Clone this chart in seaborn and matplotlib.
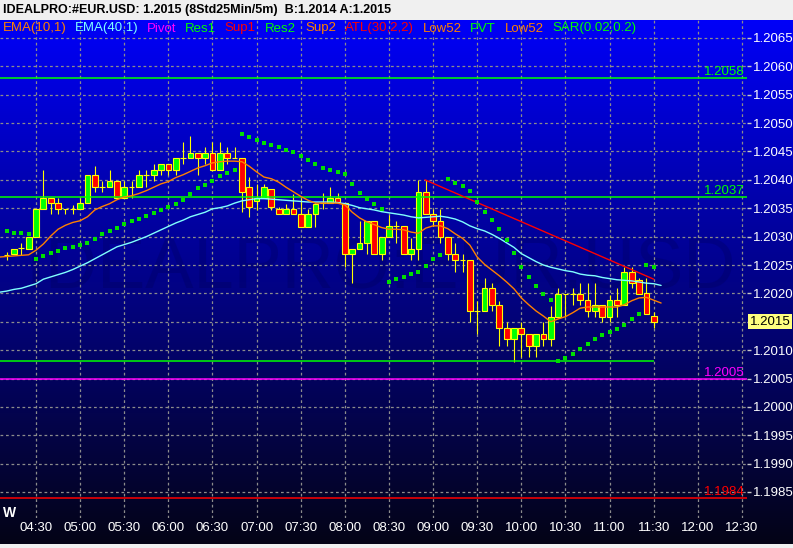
import matplotlib
matplotlib.use("Agg")
import numpy as np
import pandas as pd
import matplotlib.pyplot as plt
from matplotlib import font_manager
from matplotlib.transforms import blended_transform_factory
import seaborn as sns

# ------------------------------------------------------------------ data
header = "IDEALPRO:#EUR.USD: 1.2015 (8Std25Min/5m)  B:1.2014 A:1.2015"

# 5-minute bars, index 0 = 04:30
bar_index = list(range(-4, 85))
opens = [1.20268, 1.20269, 1.20280, 1.20278,
         1.20299, 1.20349, 1.20368, 1.20359, 1.20349, 1.20349, 1.20349, 1.20359, 1.20409, 1.20387,
         1.20387, 1.20398, 1.20368, 1.20387, 1.20387, 1.20409, 1.20409, 1.20417, 1.20428, 1.20417,
         1.20439, 1.20439, 1.20447, 1.20439, 1.20447, 1.20417, 1.20447, 1.20439, 1.20439, 1.20387,
         1.20363, 1.20368, 1.20384, 1.20349, 1.20340, 1.20349, 1.20340, 1.20317, 1.20340, 1.20359,
         1.20359, 1.20368, 1.20359, 1.20269, 1.20278, 1.20288, 1.20328, 1.20269, 1.20299, 1.20319,
         1.20319, 1.20269, 1.20278, 1.20379, 1.20340, 1.20328, 1.20299, 1.20269, 1.20259, 1.20259,
         1.20169, 1.20169, 1.20209, 1.20180, 1.20139, 1.20120, 1.20139, 1.20128, 1.20107, 1.20128,
         1.20120, 1.20158, 1.20199, 1.20199, 1.20199, 1.20188, 1.20169, 1.20180, 1.20158, 1.20188,
         1.20180, 1.20238, 1.20224, 1.20201, 1.20160]
highs = [1.20273, 1.20278, 1.20288, 1.20299,
         1.20349, 1.20417, 1.20368, 1.20368, 1.20349, 1.20356, 1.20368, 1.20409, 1.20424, 1.20398,
         1.20417, 1.20398, 1.20398, 1.20398, 1.20417, 1.20417, 1.20428, 1.20428, 1.20428, 1.20439,
         1.20467, 1.20477, 1.20447, 1.20458, 1.20467, 1.20467, 1.20458, 1.20458, 1.20439, 1.20405,
         1.20393, 1.20393, 1.20384, 1.20352, 1.20357, 1.20375, 1.20368, 1.20349, 1.20359, 1.20377,
         1.20387, 1.20377, 1.20359, 1.20278, 1.20328, 1.20328, 1.20328, 1.20299, 1.20338, 1.20328,
         1.20319, 1.20298, 1.20400, 1.20400, 1.20349, 1.20349, 1.20299, 1.20288, 1.20269, 1.20259,
         1.20186, 1.20227, 1.20218, 1.20186, 1.20149, 1.20139, 1.20149, 1.20128, 1.20128, 1.20149,
         1.20178, 1.20209, 1.20199, 1.20209, 1.20218, 1.20218, 1.20218, 1.20180, 1.20197, 1.20209,
         1.20246, 1.20246, 1.20227, 1.20227, 1.20167]
lows = [1.20259, 1.20269, 1.20268, 1.20278,
        1.20299, 1.20349, 1.20340, 1.20340, 1.20340, 1.20340, 1.20349, 1.20359, 1.20379, 1.20379,
        1.20387, 1.20368, 1.20368, 1.20368, 1.20387, 1.20387, 1.20398, 1.20409, 1.20409, 1.20409,
        1.20428, 1.20439, 1.20409, 1.20428, 1.20417, 1.20417, 1.20428, 1.20439, 1.20343, 1.20335,
        1.20347, 1.20368, 1.20347, 1.20340, 1.20340, 1.20340, 1.20317, 1.20317, 1.20317, 1.20349,
        1.20359, 1.20361, 1.20246, 1.20218, 1.20278, 1.20269, 1.20269, 1.20259, 1.20299, 1.20288,
        1.20269, 1.20259, 1.20259, 1.20340, 1.20319, 1.20288, 1.20259, 1.20238, 1.20238, 1.20149,
        1.20128, 1.20169, 1.20169, 1.20107, 1.20107, 1.20079, 1.20088, 1.20088, 1.20088, 1.20107,
        1.20107, 1.20158, 1.20158, 1.20180, 1.20180, 1.20158, 1.20158, 1.20149, 1.20149, 1.20158,
        1.20180, 1.20209, 1.20199, 1.20164, 1.20139]
closes = [1.20268, 1.20278, 1.20280, 1.20299,
          1.20349, 1.20368, 1.20359, 1.20349, 1.20349, 1.20349, 1.20359, 1.20409, 1.20387, 1.20387,
          1.20398, 1.20368, 1.20387, 1.20387, 1.20409, 1.20409, 1.20417, 1.20428, 1.20417, 1.20439,
          1.20439, 1.20447, 1.20439, 1.20447, 1.20417, 1.20447, 1.20439, 1.20439, 1.20379, 1.20352,
          1.20368, 1.20387, 1.20352, 1.20340, 1.20349, 1.20340, 1.20317, 1.20340, 1.20357, 1.20359,
          1.20368, 1.20361, 1.20269, 1.20278, 1.20288, 1.20328, 1.20269, 1.20299, 1.20319, 1.20319,
          1.20269, 1.20278, 1.20379, 1.20340, 1.20328, 1.20299, 1.20269, 1.20259, 1.20259, 1.20169,
          1.20169, 1.20209, 1.20180, 1.20139, 1.20120, 1.20139, 1.20128, 1.20107, 1.20128, 1.20120,
          1.20158, 1.20199, 1.20199, 1.20199, 1.20188, 1.20169, 1.20180, 1.20158, 1.20188, 1.20180,
          1.20238, 1.20218, 1.20199, 1.20164, 1.20150]
sar = [1.20310, 1.20306, 1.20306, 1.20305,
       1.20261, 1.20266, 1.20271, 1.20275, 1.20280, 1.20282, 1.20285, 1.20289, 1.20296, 1.20305,
       1.20310, 1.20316, 1.20322, 1.20328, 1.20331, 1.20336, 1.20342, 1.20347, 1.20352, 1.20358,
       1.20365, 1.20375, 1.20386, 1.20391, 1.20398, 1.20407, 1.20412, 1.20417,
       1.20481, 1.20476, 1.20470, 1.20465, 1.20461, 1.20458, 1.20453, 1.20449, 1.20442, 1.20435,
       1.20428, 1.20421, 1.20417, 1.20414, 1.20410, 1.20393, 1.20377, 1.20366, 1.20358, 1.20349,
       1.20220, 1.20225, 1.20229, 1.20234, 1.20238, 1.20248, 1.20261, 1.20268,
       1.20402, 1.20395, 1.20389, 1.20380, 1.20361, 1.20343, 1.20329, 1.20313, 1.20294, 1.20271,
       1.20246, 1.20229, 1.20213, 1.20199, 1.20188,
       1.20081, 1.20086, 1.20093, 1.20102, 1.20111, 1.20120, 1.20127, 1.20132, 1.20137, 1.20144,
       1.20155, 1.20164,
       1.20250, 1.20246]

ema_index = list(range(-5, 86))
ema10 = [1.20264, 1.20265, 1.20266, 1.20267, 1.20268,
         1.20276, 1.20287, 1.20301, 1.20313, 1.20320, 1.20325, 1.20328, 1.20335, 1.20347, 1.20353,
         1.20358, 1.20365, 1.20370, 1.20372, 1.20376, 1.20381, 1.20387, 1.20393, 1.20397, 1.20404,
         1.20409, 1.20415, 1.20421, 1.20425, 1.20430, 1.20432, 1.20433, 1.20433, 1.20432, 1.20424,
         1.20414, 1.20405, 1.20402, 1.20396, 1.20387, 1.20379, 1.20371, 1.20364, 1.20359, 1.20359,
         1.20359, 1.20359, 1.20356, 1.20343, 1.20333, 1.20326, 1.20321, 1.20316, 1.20313, 1.20313,
         1.20312, 1.20308, 1.20306, 1.20315, 1.20319, 1.20319, 1.20314, 1.20305, 1.20297, 1.20285,
         1.20264, 1.20251, 1.20241, 1.20231, 1.20220, 1.20208, 1.20192, 1.20180, 1.20169, 1.20160,
         1.20150, 1.20155, 1.20159, 1.20166, 1.20174, 1.20176, 1.20176, 1.20176, 1.20176, 1.20176,
         1.20180, 1.20187, 1.20192, 1.20193, 1.20188, 1.20183]
ema40 = [1.20202, 1.20204, 1.20207, 1.20209, 1.20213,
         1.20217, 1.20225, 1.20229, 1.20233, 1.20237, 1.20242, 1.20248, 1.20254, 1.20261, 1.20268,
         1.20275, 1.20282, 1.20286, 1.20290, 1.20295, 1.20300, 1.20306, 1.20312, 1.20318, 1.20324,
         1.20329, 1.20335, 1.20339, 1.20343, 1.20349, 1.20351, 1.20354, 1.20359, 1.20363, 1.20365,
         1.20367, 1.20367, 1.20366, 1.20365, 1.20364, 1.20363, 1.20362, 1.20361, 1.20361, 1.20361,
         1.20361, 1.20360, 1.20358, 1.20355, 1.20351, 1.20349, 1.20347, 1.20344, 1.20342, 1.20340,
         1.20338, 1.20335, 1.20333, 1.20334, 1.20335, 1.20336, 1.20334, 1.20331, 1.20326, 1.20319,
         1.20314, 1.20310, 1.20304, 1.20297, 1.20289, 1.20281, 1.20270, 1.20263, 1.20256, 1.20250,
         1.20246, 1.20243, 1.20240, 1.20238, 1.20234, 1.20232, 1.20231, 1.20228, 1.20226, 1.20224,
         1.20223, 1.20222, 1.20220, 1.20218, 1.20217, 1.20214]

time_labels = ["04:30", "05:00", "05:30", "06:00", "06:30", "07:00", "07:30", "08:00", "08:30",
               "09:00", "09:30", "10:00", "10:30", "11:00", "11:30", "12:00", "12:30"]
price_ticks = [1.1985, 1.1990, 1.1995, 1.2000, 1.2005, 1.2010, 1.2015, 1.2020, 1.2025,
               1.2030, 1.2035, 1.2040, 1.2045, 1.2050, 1.2055, 1.2060, 1.2065]

level_prices = [1.2058, 1.2037, 1.2005, 1.1984]
level_texts = ["1.2058", "1.2037", "1.2005", "1.1984"]
level_colors = ["#00FF00", "#00FF00", "#FF00FF", "#FF0000"]
low52_price = 1.2008
low52_end_bar = 84
atl_bars = [52.9, 84]
atl_prices = [1.20400, 1.20225]
last_price = 1.2015

legend_texts = ["EMA(10,1)", "EMA(40,1)", "Pivot", "Res1", "Sup1", "Res2", "Sup2",
                "ATL(30,2,2)", "Low52", "PVT", "Low52", "SAR(0.02,0.2)"]
legend_colors = ["#FF8000", "#80FFFF", "#FF00FF", "#00FF00", "#FF0000", "#00FF00", "#FF8000",
                 "#FF0000", "#FF8000", "#00FF00", "#FF8000", "#00FF00"]
legend_x_px = [3, 75, 147, 185, 224, 265, 305, 345, 423, 470, 505, 552]

# ------------------------------------------------------------------ style
sns.set_theme(style="dark")
names = {f.name for f in font_manager.fontManager.ttflist}
narrow = "Liberation Sans Narrow" in names
plt.rcParams["font.family"] = ["Liberation Sans Narrow" if narrow else "Liberation Sans", "DejaVu Sans"]
FS = 11 if narrow else 9.5

W, H = 793, 548
fig = plt.figure(figsize=(W / 100, H / 100), dpi=100, facecolor="#F0F0F0")


def fx(px):
    return px / W


def fy(py):
    return 1 - py / H


# background gradient (blue -> black)
bg = fig.add_axes([0, fy(544), 1, fy(20) - fy(544)], zorder=0)
t = np.linspace(0, 1, 400)[:, None, None]
top_c = np.array([0, 0, 248]) / 255
bot_c = np.array([4, 4, 22]) / 255
img = np.repeat(top_c * (1 - t) + bot_c * t, 2, axis=1)
bg.imshow(img, aspect="auto", extent=[0, 1, 0, 1], interpolation="bilinear")
bg.set_axis_off()

# main price axes (pixel mapping of the reference)
BAR_PX, X0_PX = 7.354, 36.0
PY0, P0, PX_PER_UNIT = 38.0, 1.2065, 56750.0
AX_R, AX_T, AX_B = 747, 20, 518
ax = fig.add_axes([0, fy(AX_B), fx(AX_R), fy(AX_T) - fy(AX_B)], zorder=1)
ax.patch.set_alpha(0)
ax.set_xlim(-X0_PX / BAR_PX, (AX_R - X0_PX) / BAR_PX)
ax.set_ylim(P0 - (AX_B - PY0) / PX_PER_UNIT, P0 + (PY0 - AX_T) / PX_PER_UNIT)
for s in ax.spines.values():
    s.set_visible(False)

ax.set_xticks([6 * k for k in range(len(time_labels))])
ax.set_xticklabels(time_labels)
ax.set_yticks(price_ticks)
# the last-price box replaces the regular label at that level
ax.set_yticklabels(["" if abs(p - last_price) < 1e-9 else f"{p:.4f}" for p in price_ticks])
ax.yaxis.tick_right()
ax.grid(True, color="#8C8C8C", linestyle=(0, (2.2, 2.2)), linewidth=0.9)
ax.set_axisbelow(True)
ax.tick_params(axis="x", bottom=True, length=0, pad=3, labelcolor="white", labelsize=FS)
ax.tick_params(axis="y", right=True, left=False, length=3, width=1, color="#C8C8C8",
               direction="out", pad=1.5, labelcolor="white", labelsize=FS)

# watermark
ax.text(0.51, 0.50, "IDEALPRO:EUR.USD", transform=ax.transAxes, ha="center", va="center",
        fontsize=52, color="#000040", alpha=0.2, zorder=0.5,
        family=["Liberation Sans", "DejaVu Sans"])

# candles
df = pd.DataFrame({"i": bar_index, "o": opens, "h": highs, "l": lows, "c": closes})
up = df[df.c > df.o]
dn = df[df.c < df.o]
dj = df[df.c == df.o]
BODY_W = 0.78
ax.vlines(df.i, df.l, df.h, color="#FFFF00", linewidth=0.8, zorder=3)
ax.bar(up.i, up.c - up.o, bottom=up.o, width=BODY_W, color="#00FF00",
       edgecolor="#FFFF00", linewidth=0.8, zorder=4)
ax.bar(dn.i, dn.o - dn.c, bottom=dn.c, width=BODY_W, color="#FF0000",
       edgecolor="#FFFF00", linewidth=0.8, zorder=4)
ax.hlines(dj.c, dj.i - BODY_W / 2, dj.i + BODY_W / 2, color="#FFFF00", linewidth=0.8, zorder=4)

# horizontal levels
for p, txt, col in zip(level_prices, level_texts, level_colors):
    ax.axhline(p, color=col, linewidth=1.1, zorder=5)
    ax.text(745 / AX_R, p, txt, transform=blended_transform_factory(ax.transAxes, ax.transData),
            ha="right", va="bottom", color=col, fontsize=FS, zorder=6)
ax.hlines(low52_price, ax.get_xlim()[0], low52_end_bar, color="#00FF00", linewidth=1.1, zorder=5)

# trend line
ax.plot(atl_bars, atl_prices, color="#FF0000", linewidth=1.0, zorder=5)

# EMAs and SAR through seaborn
sns.lineplot(x=ema_index, y=ema40, ax=ax, color="#80FFFF", linewidth=1.0, zorder=5, legend=False)
sns.lineplot(x=ema_index, y=ema10, ax=ax, color="#FF8000", linewidth=1.0, zorder=5, legend=False)
sns.scatterplot(x=bar_index, y=sar, ax=ax, marker="s", s=6, color="#00E000", linewidth=0,
                zorder=6, legend=False)
ax.set_xlabel("")
ax.set_ylabel("")

# last price box
ax.text(1.0035, last_price, f"{last_price:.4f}",
        transform=blended_transform_factory(ax.transAxes, ax.transData),
        ha="left", va="center", color="black", fontsize=FS, zorder=10, clip_on=False,
        bbox=dict(boxstyle="square,pad=0.12", facecolor="#FFFF80", edgecolor="none"))

# header and legend row
fig.text(fx(3), fy(10), header, fontsize=9, fontweight="bold", color="black",
         ha="left", va="center", family=["Liberation Sans", "DejaVu Sans"])
for txt, col, xp in zip(legend_texts, legend_colors, legend_x_px):
    fig.text(fx(xp), fy(28.5), txt, color=col, fontsize=FS, ha="left", va="center", zorder=5)
fig.text(fx(3), fy(513), "W", color="white", fontsize=10, fontweight="bold",
         ha="left", va="center", family=["Liberation Sans", "DejaVu Sans"])

fig.savefig("out.png", dpi=100, facecolor=fig.get_facecolor())
